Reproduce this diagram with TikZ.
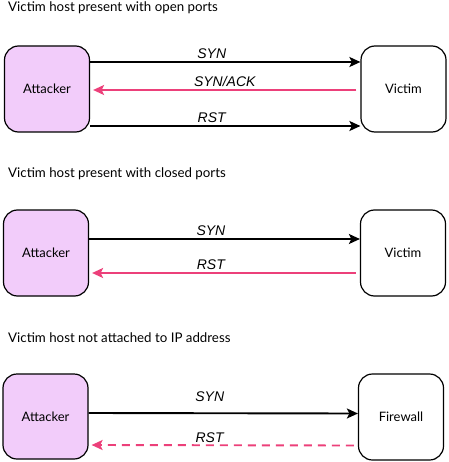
\documentclass[tikz,border=0pt]{standalone}
\usepackage{fontspec}
\setmainfont{Lato}
\newfontfamily\lblfont{Liberation Sans}
\usetikzlibrary{arrows.meta,positioning}
\definecolor{attfill}{HTML}{F2CCFA}
\definecolor{replypink}{HTML}{EC407A}
\tikzset{
  host/.style={draw,line width=1.2pt,rounded corners=14pt,minimum width=85pt,minimum height=86pt,inner sep=0pt,font=\fontsize{13}{15}\selectfont},
  attacker/.style={host,fill=attfill},
  title/.style={anchor=west,inner sep=0pt,font=\fontsize{13.3}{15}\selectfont},
  msg/.style={line width=1.9pt,-{Stealth[length=11pt,width=10pt,inset=2.5pt]}},
  reply/.style={msg,replypink},
  lbl/.style={above,inner sep=2pt,font=\lblfont\itshape\fontsize{14}{16}\selectfont,text=black}
}
\begin{document}
\begin{tikzpicture}[x=1pt,y=-1pt]
\useasboundingbox (0,0) rectangle (448,462);
%open ports
\node[title] (t1) at (8,8) {Victim host present with open ports};
\node[attacker] (a1) at (47,89) {Attacker};
\node[host] (v1) at (403.5,89) {Victim};
\draw[msg] ([yshift=27pt]a1.east)--([yshift=27pt]v1.west)node[lbl,pos=0.45]{SYN};
\draw[reply] ([xshift=-4pt,yshift=-1pt]v1.west)--([xshift=3pt,yshift=-1pt]a1.east)node[lbl,pos=0.5]{SYN/ACK};
\draw[msg] ([yshift=-37pt]a1.east)--([yshift=-37pt]v1.west)node[lbl,pos=0.45]{RST};
%closed ports
\node[title] (t2) at (8,174) {Victim host present with closed ports};
\node[attacker] (a2) at (46,253) {Attacker};
\node[host] (v2) at (403,253) {Victim};
\draw[msg] ([yshift=14pt]a2.east)--([yshift=14pt]v2.west)node[lbl,pos=0.45]{SYN};
\draw[reply] ([xshift=-4pt,yshift=-20pt]v2.west)--([xshift=3pt,yshift=-20pt]a2.east)node[lbl,pos=0.55]{RST};
%no host
\node[title] (t3) at (8,338) {Victim host not attached to IP address};
\node[attacker,minimum height=85pt] (a3) at (45.5,416.5) {Attacker};
\node[host,minimum height=86pt] (f3) at (401,417) {Firewall};
\draw[msg] ([yshift=3.5pt]a3.east)--([yshift=3.5pt]f3.west)node[lbl,pos=0.45,yshift=9pt]{SYN};
\draw[reply,dashed,dash pattern=on 8pt off 6pt] ([xshift=-4pt,yshift=-28.5pt]f3.west)--([xshift=3pt,yshift=-28.5pt]a3.east)node[lbl,pos=0.55]{RST};
\end{tikzpicture}
\end{document}
